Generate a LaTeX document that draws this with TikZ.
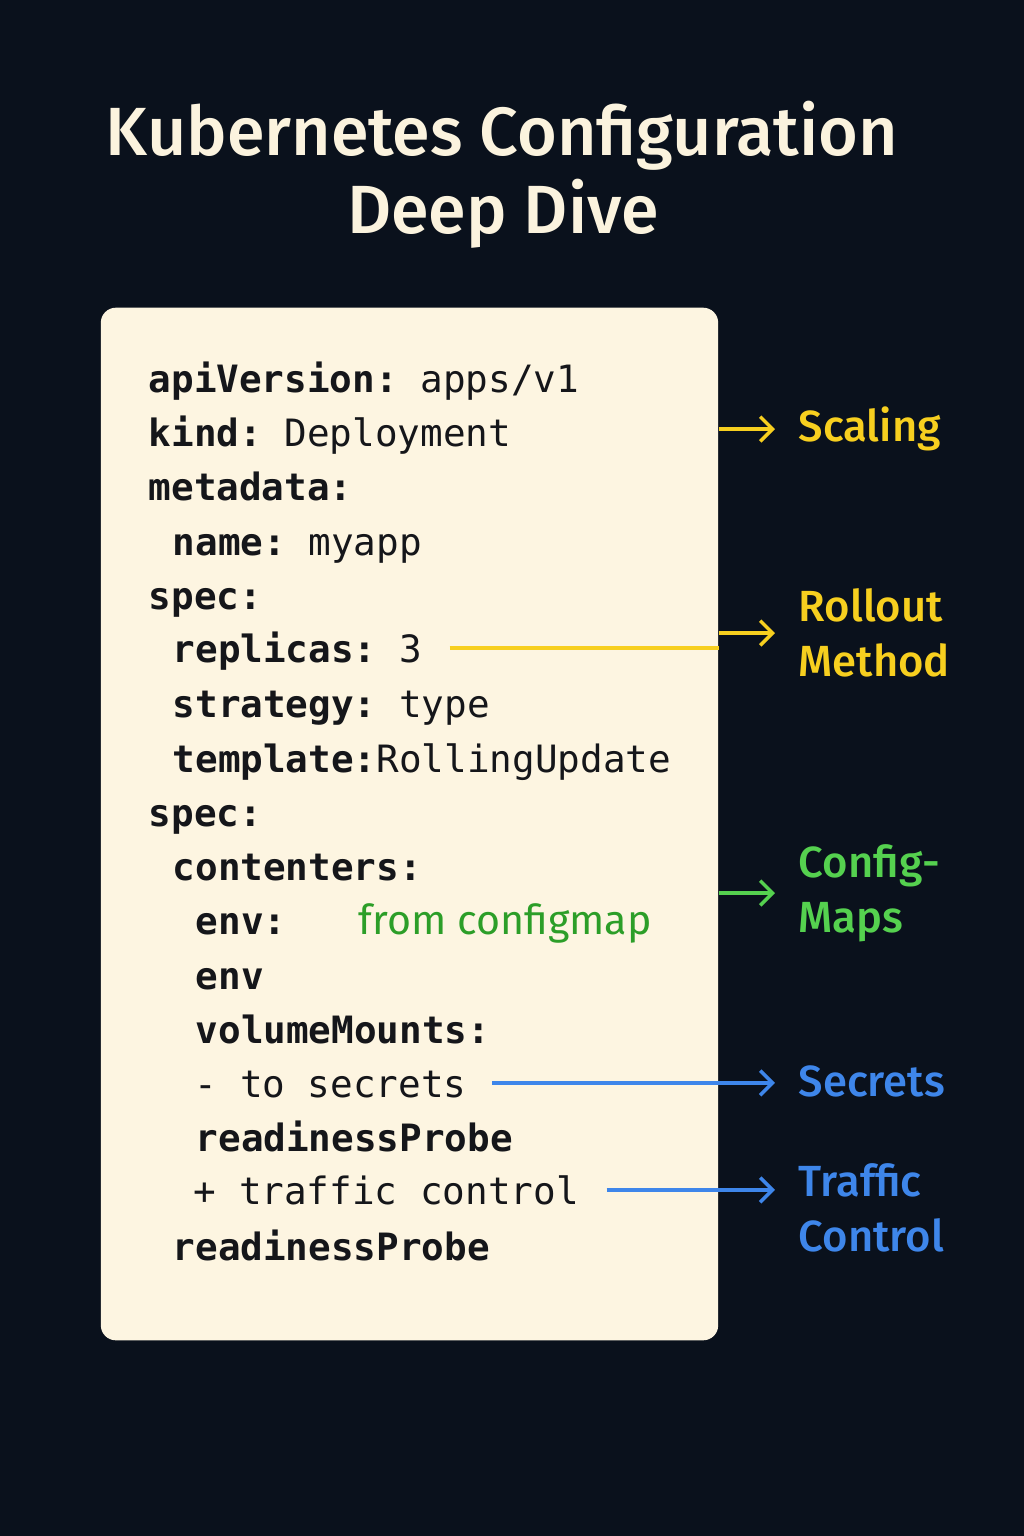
\documentclass[tikz,border=0pt]{standalone}
\usepackage{fontspec}
\setmainfont{Fira Sans}
\setmonofont{DejaVu Sans Mono}
\newfontfamily\titlefont{Fira Sans Medium}
\usetikzlibrary{arrows.meta,calc}

\definecolor{bgnavy}{HTML}{0A111C}
\definecolor{paper}{HTML}{FDF5E1}
\definecolor{titlecream}{HTML}{FBF3DE}
\definecolor{ink}{HTML}{15161A}
\definecolor{kyellow}{HTML}{F7CF1F}
\definecolor{kgreen}{HTML}{55D14F}
\definecolor{darkgreen}{HTML}{2C9E28}
\definecolor{kblue}{HTML}{3E86EA}

\begin{document}
\begin{tikzpicture}[
            x=0.01cm, y=-0.01cm,
            title/.style={anchor=base, inner sep=0pt, text=titlecream, font=\titlefont\fontsize{19.4}{24}\selectfont},
            panel/.style={fill=paper, rounded corners=0.15cm, inner sep=0pt},
            code/.style={anchor=base west, inner sep=0pt, text=ink, text height=0.8em, text depth=0pt,
                font=\fontsize{10.7}{12}\selectfont\ttfamily},
            tag/.style={anchor=west, inner sep=0pt, align=left, font=\titlefont\fontsize{12.4}{15.6}\selectfont},
            link/.style={line width=1pt, -{Straight Barb[length=3.5pt,width=7pt]}, shorten >=0.23cm},
        ]
        % background and heading
        \fill[bgnavy] (0,0) rectangle (1024,1536);
        \node[title] (head1) at (502,155) {Kubernetes Configuration};
        \node[title] (head2) at (503,233) {Deep Dive};

        % the yaml card
        \node[panel, minimum width=6.17cm, minimum height=10.32cm] (yaml) at (409.5,824) {};
        \node[code] (apiver) at (148,392) {\textbf{apiVersion:} apps/v1};
        \node[code] (kind) at (148,446) {\textbf{kind:} Deployment};
        \node[code] (meta) at (148,500) {\textbf{metadata:}};
        \node[code] (name) at (172,555) {\textbf{name:} myapp};
        \node[code] (spec1) at (148,609) {\textbf{spec:}};
        \node[code] (replicas) at (172,662) {\textbf{replicas:} 3};
        \node[code] (strategy) at (172,717) {\textbf{strategy:} type};
        \node[code] (template) at (172,772) {\textbf{template:}RollingUpdate};
        \node[code] (spec2) at (148,826) {\textbf{spec:}};
        \node[code] (containers) at (172,880) {\textbf{contenters:}};
        \node[code] (env1) at (195,934) {\textbf{env:}};
        \node[code, text=darkgreen, font=\fontsize{11.7}{14}\selectfont] (configmap) at (358,934) {from configmap};
        \node[code] (env2) at (195,989) {\textbf{env}};
        \node[code] (mounts) at (195,1043) {\textbf{volumeMounts:}};
        \node[code] (secrets) at (194,1097) {- to secrets};
        \node[code] (probe1) at (195,1151) {\textbf{readinessProbe}};
        \node[code] (traffic) at (193,1204) {+ traffic control};
        \node[code] (probe2) at (172,1260) {\textbf{readinessProbe}};

        % labels on the right
        \node[tag, text=kyellow] (lscaling) at (798,429) {Scaling};
        \node[tag, text=kyellow] (lrollout) at (798,633) {Rollout\\Method};
        \node[tag, text=kgreen] (lconfig) at (798,893) {Config-\\Maps};
        \node[tag, text=kblue] (lsecrets) at (798,1081) {Secrets};
        \node[tag, text=kblue] (ltraffic) at (798,1208) {Traffic\\Control};

        % connectors
        \draw[link, kyellow] (yaml.east |- lscaling.west) -- (lscaling.west);
        \draw[kyellow, line width=1pt, shorten <=0.27cm] (replicas.east) -- (replicas.east -| yaml.east);
        \draw[link, kyellow] (yaml.east |- lrollout.west) -- (lrollout.west);
        \draw[link, kgreen] (yaml.east |- lconfig.west) -- (lconfig.west);
        \draw[link, kblue, shorten <=0.25cm] (secrets.east) -- (secrets.east -| lsecrets.west);
        \draw[link, kblue, shorten <=0.27cm] (traffic.east) -- (traffic.east -| ltraffic.west);
\end{tikzpicture}
\end{document}
